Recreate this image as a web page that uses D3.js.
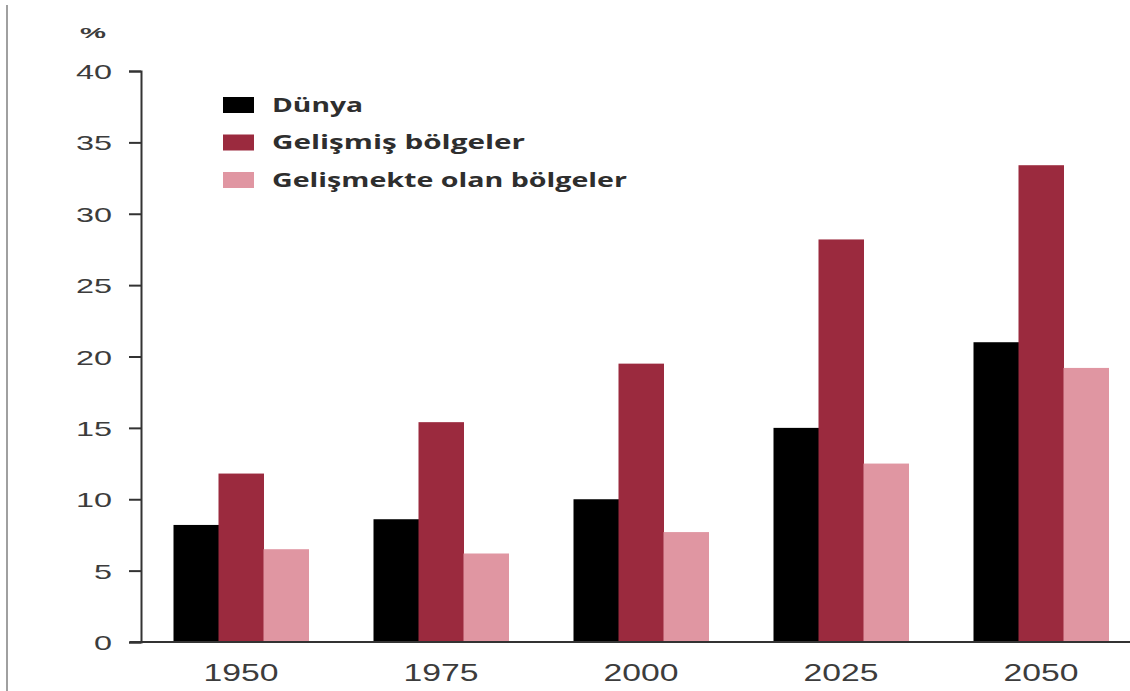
<!DOCTYPE html>
<html>
<head>
<meta charset="utf-8">
<script src="https://cdn.jsdelivr.net/npm/d3@7"></script>
<style>
  html, body { margin: 0; padding: 0; background: #fff; }
  svg { display: block; }
</style>
</head>
<body>
<svg id="chart" width="1130" height="691"></svg>
<script>
const categories = ["1950", "1975", "2000", "2025", "2050"];
const seriesNames = ["Dünya", "Gelişmiş bölgeler", "Gelişmekte olan bölgeler"];
const dunya = [8.2, 8.6, 10.0, 15.0, 21.0];
const gelismis = [11.8, 15.4, 19.5, 28.2, 33.4];
const gelismekte = [6.5, 6.2, 7.7, 12.5, 19.2];
const yTicks = [0, 5, 10, 15, 20, 25, 30, 35, 40];
const unitLabel = "%";
const colors = ["#000000", "#9b2a3e", "#e096a2"];

const seriesValues = [dunya, gelismis, gelismekte];
const svg = d3.select("#chart");

// left border line of the original image
svg.append("line").attr("x1", 7).attr("x2", 7).attr("y1", 5).attr("y2", 691)
  .attr("stroke", "#a0a0a0").attr("stroke-width", 2);

const y = d3.scaleLinear().domain([0, 40]).range([642, 71]);
const x0 = d3.scaleBand().domain(categories).range([141, 1141])
  .paddingInner(0.325).paddingOuter(0.1625);
const x1 = d3.scaleBand().domain(d3.range(seriesNames.length)).range([0, x0.bandwidth()]);

// bars
const groups = svg.append("g").selectAll("g").data(categories).join("g")
  .attr("transform", d => `translate(${x0(d)},0)`);
groups.selectAll("rect")
  .data((d, i) => seriesValues.map((s, k) => ({ k, v: s[i] })))
  .join("rect")
  .attr("x", d => x1(d.k))
  .attr("width", x1.bandwidth() + 0.5)
  .attr("y", d => y(d.v))
  .attr("height", d => y(0) - y(d.v))
  .attr("fill", d => colors[d.k]);

// y axis
const yAxis = svg.append("g").attr("transform", "translate(141,0)")
  .call(d3.axisLeft(y).tickValues(yTicks).tickSize(12).tickPadding(17));
yAxis.select(".domain").attr("stroke", "#333").attr("stroke-width", 2);
yAxis.selectAll(".tick line").attr("stroke", "#333").attr("stroke-width", 2);
yAxis.selectAll(".tick text")
  .attr("font-family", "Liberation Sans, Arial, sans-serif")
  .attr("font-size", 21).attr("fill", "#3c3c3c")
  .attr("dy", "0.36em")
  .attr("textLength", d => String(d).length * 18)
  .attr("lengthAdjust", "spacingAndGlyphs");

// x axis baseline
const xAxis = svg.append("g").attr("transform", "translate(0,642)")
  .call(d3.axisBottom(x0).tickSize(0).tickPadding(0));
xAxis.select(".domain").remove();
svg.append("line").attr("x1", 130).attr("x2", 1130).attr("y1", 642).attr("y2", 642)
  .attr("stroke", "#333").attr("stroke-width", 2);
xAxis.selectAll(".tick text")
  .attr("font-family", "Liberation Sans, Arial, sans-serif")
  .attr("font-size", 24).attr("fill", "#3c3c3c")
  .attr("y", 39).attr("dy", 0)
  .attr("textLength", 75)
  .attr("lengthAdjust", "spacingAndGlyphs");

// unit label
svg.append("text").attr("x", 93).attr("y", 38).attr("text-anchor", "middle")
  .attr("font-family", "Liberation Sans, Arial, sans-serif")
  .attr("font-weight", "bold").attr("font-size", 14).attr("fill", "#3c3c3c")
  .attr("textLength", 26).attr("lengthAdjust", "spacingAndGlyphs")
  .text(unitLabel);

// legend
const legendWidths = [91, 253, 355];
const legend = svg.append("g").selectAll("g").data(seriesNames).join("g")
  .attr("transform", (d, i) => `translate(223,${97 + i * 37.5})`);
legend.append("rect").attr("width", 31).attr("height", 16)
  .attr("fill", (d, i) => colors[i]);
legend.append("text").attr("x", 49).attr("y", 8).attr("dy", "0.35em")
  .attr("font-family", "Open Sans, sans-serif").attr("font-weight", "bold")
  .attr("font-size", 19).attr("fill", "#2e2e2e")
  .attr("textLength", (d, i) => legendWidths[i])
  .attr("lengthAdjust", "spacingAndGlyphs")
  .text(d => d);
</script>
</body>
</html>
